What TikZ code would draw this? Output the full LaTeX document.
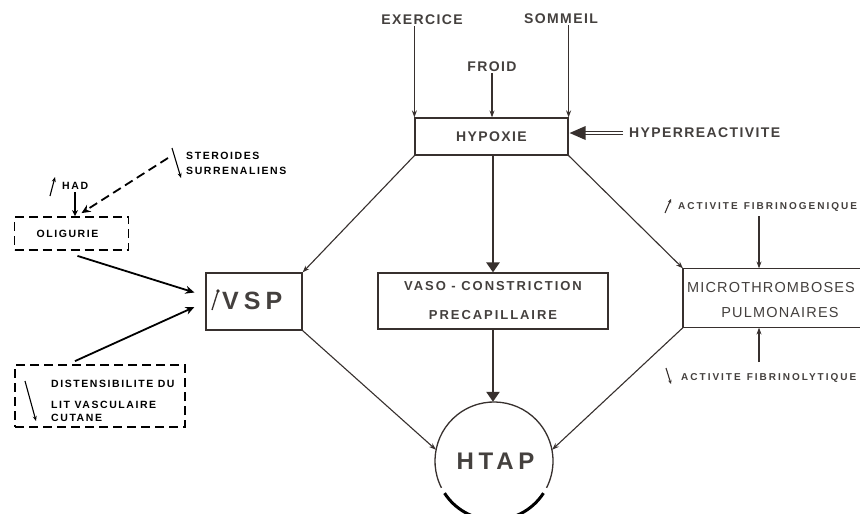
\documentclass[tikz,border=0pt]{standalone}
\usepackage{fontspec}
\setmainfont{Liberation Sans}
\newfontfamily\lsf[LetterSpace=10]{Liberation Sans}
\newfontfamily\lsfv[LetterSpace=15]{Liberation Sans}
\newfontfamily\lsfh[LetterSpace=20]{Liberation Sans}
\newfontfamily\lsfm[LetterSpace=8]{Liberation Sans}
\usetikzlibrary{arrows.meta}
\definecolor{ink}{RGB}{55,48,46}
\definecolor{txt}{RGB}{68,64,62}
\newcommand\mainf{\lsf\bfseries\fontsize{14}{16}\selectfont}
\newcommand\vasof{\lsfv\bfseries\fontsize{13}{29}\selectfont}
\newcommand\microf{\lsfm\fontsize{14.5}{16}\selectfont}
\newcommand\htapf{\lsfh\bfseries\fontsize{24}{26}\selectfont}
\newcommand\vspf{\lsfh\bfseries\fontsize{25}{27}\selectfont}
\newcommand\actf{\lsfh\bfseries\fontsize{10}{11}\selectfont}
\newcommand\leftf{\lsfv\bfseries\fontsize{10.5}{15}\selectfont}
\begin{document}
\begin{tikzpicture}[x=1pt,y=-1pt,
 box/.style={draw=ink,line width=1.2pt,inner sep=0pt},
 dbox/.style={draw=black,line width=1.8pt,dash pattern=on 9pt off 5pt,inner sep=0pt},
 tarr/.style={draw=ink,line width=1.1pt,-{Stealth[length=7pt,width=5pt]}},
 barr/.style={draw=ink,line width=2.6pt,-{Triangle[length=10pt,width=13pt]}},
 larr/.style={draw=black,line width=1.8pt,-{Stealth[length=9pt,width=8pt]}},
 sarr/.style={draw=black,line width=1.1pt,-{Stealth[length=5pt,width=4pt]}},
 lbl/.style={text=txt,font=\mainf,inner sep=1pt},
 llbl/.style={text=black,font=\leftf,inner sep=1pt,anchor=west,align=left},
 albl/.style={text=txt,font=\actf,inner sep=1pt,anchor=west},
]
\useasboundingbox (0,0) rectangle (860,514);
\clip (0,0) rectangle (860,514);
\fill[white] (0,0) rectangle (860,514);

% --- central column ---
\node[box,minimum width=153pt,minimum height=37pt,text=txt,font=\mainf] (hyp) at (491.5,136.5) {HYPOXIE};
\node[lbl] (exer) at (422,20) {EXERCICE};
\node[lbl] (froid) at (492,67) {FROID};
\node[lbl] (somm) at (561,19) {SOMMEIL};
\draw[tarr] (exer.south -| hyp.north west) -- (hyp.north west);
\draw[tarr] (froid.south) -- (froid.south |- hyp.north);
\draw[tarr] (somm.south -| hyp.north east) -- (hyp.north east);

\node[lbl,anchor=west] (hyper) at (628,133) {HYPERREACTIVITE};
\coordinate (ht) at (hyp.east |- hyper.west);
\draw[ink,line width=1.1pt,double distance=2.4pt,shorten <=5pt,shorten >=13pt] (hyper.west) -- (ht);
\fill[ink] ([xshift=1pt]ht) -- ++(16,-7) -- ++(0,14) -- cycle;

\node[box,minimum width=230pt,minimum height=56pt,align=center,text=txt,font=\vasof] (vaso) at (493,301) {VASO - CONSTRICTION\\PRECAPILLAIRE};
\draw[barr] (hyp.south -| vaso.north) -- (vaso.north);

\node[box,minimum width=96pt,minimum height=57pt] (vsp) at (254,301.5) {};
\node[text=txt,font=\vspf,anchor=west,inner sep=0pt] (vspt) at (222,301) {VSP};
\draw[ink,line width=1.3pt] (212,310) -- (218,291);
\fill[ink] (218,291) circle (1.8pt);

\node[box,draw=none,minimum width=200pt,minimum height=58pt,anchor=west] (micro) at (683,298) {};
\draw[ink,line width=1.2pt] (micro.north east) -- (micro.north west) -- (micro.south west) -- (micro.south east);
\node[text=txt,font=\microf,inner sep=0pt] (mt1) at (771,288) {MICROTHROMBOSES};
\node[text=txt,font=\microf,inner sep=0pt] (mt2) at (780,313) {PULMONAIRES};

\node[albl] (fibg) at (677,207) {ACTIVITE\hspace{6pt}FIBRINOGENIQUE};
\node[albl] (fibl) at (680,378) {ACTIVITE\hspace{6pt}FIBRINOLYTIQUE};
\coordinate (fa) at (759,216);
\coordinate (fb) at (759,362);
\draw[tarr] (fa) -- (fa |- micro.north);
\draw[tarr] (fb) -- (fb |- micro.south);
\draw[draw=ink,line width=1.1pt,-{Stealth[length=4pt,width=3.5pt]}] (665,213) -- (671,199);
\draw[draw=ink,line width=1.1pt,-{Stealth[length=4pt,width=3.5pt]}] (666,368) -- (671,384);

\node[circle,minimum size=118pt,inner sep=0pt,text=txt,font=\htapf] (htap) at (494,461) {\hspace{3pt}HTAP};
\draw[ink,line width=1.3pt] (htap.center) ++(153:59) arc[start angle=153,end angle=387,radius=59];
\draw[black,line width=3pt] (htap.center) ++(33:59) arc[start angle=33,end angle=147,radius=59];
\draw[barr] (vaso.south) -- (vaso.south |- htap.north);

\draw[tarr] (hyp.south west) -- (vsp.north east);
\draw[tarr] (hyp.south east) -- (micro.north west);
\draw[tarr] (vsp.south east) -- (htap.169);
\draw[tarr] (micro.south west) -- (htap.11);

% --- left side ---
\node[dbox,minimum width=114pt,minimum height=33pt,font=\leftf] (oli) at (71.5,233.5) {\hspace{-8pt}OLIGURIE};
\node[dbox,minimum width=170pt,minimum height=62pt] (dist) at (100,396) {};
\node[llbl] (d1) at (50,384) {DISTENSIBILITE DU};
\node[llbl] (d2) at (50,405) {LIT VASCULAIRE};
\node[llbl] (d3) at (50,418) {CUTANE};
\draw[sarr] (25,381) -- (36,421);

\node[llbl] (had) at (61,186) {HAD};
\draw[sarr] (50,196) -- (55,177);
\coordinate (hd) at (75,192);
\draw[draw=black,line width=1.8pt,-{Stealth[length=6pt,width=6pt]}] (hd) -- (hd |- oli.north);

\node[llbl] (ster) at (185,163) {STEROIDES\\SURRENALIENS};
\draw[sarr] (172,148) -- (181,178);
\coordinate (sd) at (168,158);
\draw[larr,dash pattern=on 9pt off 5pt] (sd) -- ([xshift=10pt,yshift=3pt]oli.north);

\draw[larr] ([xshift=6pt,yshift=-5pt]oli.south) -- ([xshift=-11pt,yshift=9pt]vsp.west);
\draw[larr] ([xshift=-25pt,yshift=3pt]dist.north) -- ([xshift=-11pt,yshift=-5.5pt]vsp.west);
\end{tikzpicture}
\end{document}
